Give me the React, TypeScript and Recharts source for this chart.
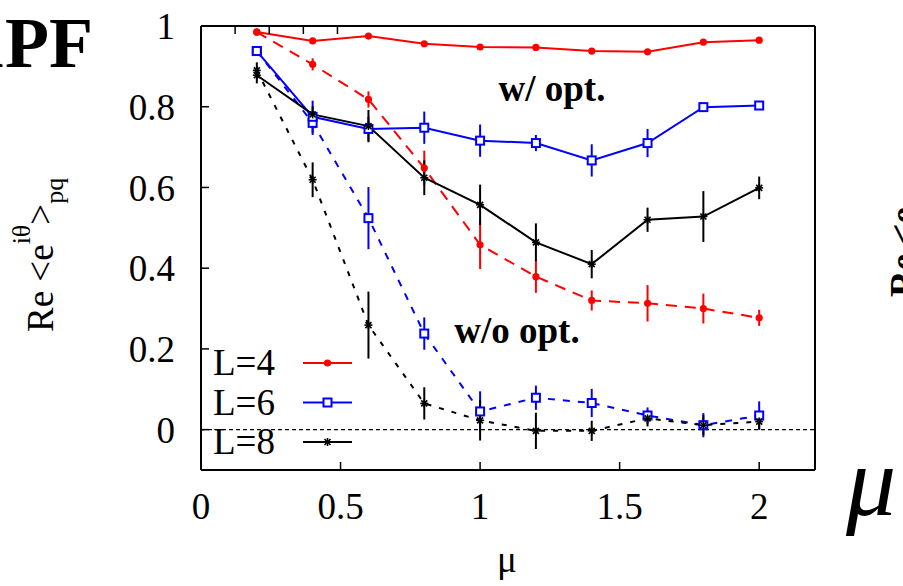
import {
  ComposedChart,
  Line,
  XAxis,
  YAxis,
  ErrorBar,
  ReferenceLine,
  Legend,
} from 'recharts';

const mu = [0.2, 0.4, 0.6, 0.8, 1.0, 1.2, 1.4, 1.6, 1.8, 2.0];

// w/ opt.
const l4Opt = [0.985, 0.963, 0.975, 0.956, 0.948, 0.947, 0.938, 0.936, 0.96, 0.965];
const l4OptErr = [0.008, 0.006, 0.006, 0.006, 0.006, 0.005, 0.005, 0.006, 0.006, 0.006];
const l6Opt = [0.938, 0.775, 0.745, 0.748, 0.716, 0.71, 0.667, 0.71, 0.799, 0.803];
const l6OptErr = [0.01, 0.04, 0.03, 0.04, 0.04, 0.02, 0.04, 0.035, 0.008, 0.008];
const l8Opt = [0.878, 0.781, 0.752, 0.624, 0.557, 0.464, 0.41, 0.52, 0.528, 0.599];
const l8OptErr = [0.02, 0.02, 0.04, 0.043, 0.05, 0.047, 0.035, 0.03, 0.063, 0.028];

// w/o opt.
const l4NoOpt = [0.985, 0.905, 0.818, 0.648, 0.458, 0.379, 0.32, 0.313, 0.3, 0.277];
const l4NoOptErr = [0.008, 0.015, 0.02, 0.043, 0.06, 0.04, 0.025, 0.045, 0.037, 0.02];
const l6NoOpt = [0.938, 0.76, 0.524, 0.238, 0.045, 0.079, 0.066, 0.035, 0.011, 0.035];
const l6NoOptErr = [0.01, 0.03, 0.077, 0.04, 0.05, 0.03, 0.035, 0.02, 0.03, 0.035];
const l8NoOpt = [0.89, 0.619, 0.259, 0.065, 0.023, -0.003, -0.003, 0.028, 0.011, 0.02];
const l8NoOptErr = [0.02, 0.043, 0.083, 0.04, 0.05, 0.045, 0.025, 0.02, 0.025, 0.02];

const xTicks = [0, 0.5, 1, 1.5, 2];
const yTicks = [0, 0.2, 0.4, 0.6, 0.8, 1];

const data = mu.map((m, i) => ({
  mu: m,
  l4Opt: l4Opt[i],
  l4OptErr: l4OptErr[i],
  l6Opt: l6Opt[i],
  l6OptErr: l6OptErr[i],
  l8Opt: l8Opt[i],
  l8OptErr: l8OptErr[i],
  l4NoOpt: l4NoOpt[i],
  l4NoOptErr: l4NoOptErr[i],
  l6NoOpt: l6NoOpt[i],
  l6NoOptErr: l6NoOptErr[i],
  l8NoOpt: l8NoOpt[i],
  l8NoOptErr: l8NoOptErr[i],
}));

const FONT = '"Liberation Serif", "Times New Roman", serif';

type Shape = 'circle' | 'square' | 'star';

function Marker({ cx, cy, color, shape }: { cx: number; cy: number; color: string; shape: Shape }) {
  if (cx == null || cy == null) return null;
  if (shape === 'circle') {
    return <circle cx={cx} cy={cy} r={3.6} fill={color} stroke="none" />;
  }
  if (shape === 'square') {
    return <rect x={cx - 4} y={cy - 4} width={8} height={8} fill="#fff" stroke={color} strokeWidth={2} />;
  }
  const s = 4;
  return (
    <g stroke={color} strokeWidth={1.6}>
      <line x1={cx - s} y1={cy} x2={cx + s} y2={cy} />
      <line x1={cx} y1={cy - s} x2={cx} y2={cy + s} />
      <line x1={cx - s * 0.75} y1={cy - s * 0.75} x2={cx + s * 0.75} y2={cy + s * 0.75} />
      <line x1={cx - s * 0.75} y1={cy + s * 0.75} x2={cx + s * 0.75} y2={cy - s * 0.75} />
    </g>
  );
}

const series = [
  { key: 'l4', name: 'L=4', color: '#ff0000', shape: 'circle' as Shape, dash: '11 8' },
  { key: 'l6', name: 'L=6', color: '#0000ff', shape: 'square' as Shape, dash: '7 8' },
  { key: 'l8', name: 'L=8', color: '#000000', shape: 'star' as Shape, dash: '5 8' },
];

function LegendBox() {
  return (
    <svg width={160} height={130} style={{ display: 'block' }}>
      {series.map((s, i) => {
        const cy = 28 + i * 39.5;
        return (
          <g key={s.key}>
            <text x={8} y={cy + 12} fontFamily={FONT} fontSize={37} fill="#000">
              {s.name}
            </text>
            <line x1={98} y1={cy} x2={147} y2={cy} stroke={s.color} strokeWidth={2} />
            <Marker cx={122.5} cy={cy} color={s.color} shape={s.shape} />
          </g>
        );
      })}
    </svg>
  );
}

const tickStyle = { fontSize: 37, fontFamily: FONT, fill: '#000' };
const frame = { stroke: '#000', strokeWidth: 2 };
const tickLine = { stroke: '#000', strokeWidth: 1.5 };

export default function App() {
  return (
    <div style={{ position: 'absolute', left: 0, top: 0, width: 903, height: 586, background: '#fff' }}>
      <ComposedChart
        width={903}
        height={586}
        data={data}
        margin={{ top: 25, right: 87, bottom: 115, left: 200 }}
      >
        <XAxis
          dataKey="mu"
          type="number"
          domain={[0, 2.2]}
          ticks={xTicks}
          height={1}
          tickSize={-8}
          tickMargin={31}
          tick={tickStyle}
          axisLine={frame}
          tickLine={tickLine}
          allowDataOverflow
        />
        <XAxis
          xAxisId="top"
          orientation="top"
          type="number"
          domain={[0, 2.2]}
          ticks={[0.5, 1, 1.5, 2]}
          height={1}
          tickSize={-8}
          tick={() => <g />}
          axisLine={frame}
          tickLine={tickLine}
        />
        <YAxis
          type="number"
          domain={[-0.1, 1]}
          ticks={yTicks}
          width={1}
          tickSize={-8}
          tickMargin={34}
          tick={tickStyle}
          axisLine={frame}
          tickLine={tickLine}
          allowDataOverflow
        />
        <YAxis
          yAxisId="right"
          orientation="right"
          type="number"
          domain={[-0.1, 1]}
          ticks={yTicks}
          width={1}
          tickSize={-8}
          tick={() => <g />}
          axisLine={frame}
          tickLine={tickLine}
        />
        <ReferenceLine y={0} stroke="#000" strokeWidth={1.4} strokeDasharray="4 3" />
        <Legend
          layout="vertical"
          align="center"
          verticalAlign="middle"
          content={() => <LegendBox />}
          wrapperStyle={{ left: 205, top: 335, width: 160, height: 130 }}
        />
        {series.map((s) => (
          <Line
            key={s.key + 'NoOpt'}
            dataKey={s.key + 'NoOpt'}
            stroke={s.color}
            strokeWidth={2}
            strokeDasharray={s.dash}
            legendType="none"
            isAnimationActive={false}
            dot={(p: any) => <Marker key={'n' + s.key + p.index} cx={p.cx} cy={p.cy} color={s.color} shape={s.shape} />}
          >
            <ErrorBar dataKey={s.key + 'NoOptErr'} width={0} stroke={s.color} strokeWidth={2} direction="y" />
          </Line>
        ))}
        {series.map((s) => (
          <Line
            key={s.key + 'Opt'}
            dataKey={s.key + 'Opt'}
            name={s.name}
            stroke={s.color}
            strokeWidth={2}
            isAnimationActive={false}
            dot={(p: any) => <Marker key={'o' + s.key + p.index} cx={p.cx} cy={p.cy} color={s.color} shape={s.shape} />}
          >
            <ErrorBar dataKey={s.key + 'OptErr'} width={0} stroke={s.color} strokeWidth={2} direction="y" />
          </Line>
        ))}
      </ComposedChart>
      <svg
        width={903}
        height={586}
        style={{ position: 'absolute', left: 0, top: 0, pointerEvents: 'none' }}
      >
        <text x={3} y={67} textAnchor="end" fontFamily={FONT} fontWeight="bold" fontSize={71} fill="#000">
          A
        </text>
        <text
          x={5}
          y={67}
          textLength={88}
          lengthAdjust="spacingAndGlyphs"
          fontFamily={FONT}
          fontWeight="bold"
          fontSize={71}
          fill="#000"
        >
          PF
        </text>
        <text x={552} y={101} textAnchor="middle" fontFamily={FONT} fontWeight="bold" fontSize={37} fill="#000">
          w/ opt.
        </text>
        <text x={517} y={343} textAnchor="middle" fontFamily={FONT} fontWeight="bold" fontSize={37} fill="#000">
          w/o opt.
        </text>
        <text x={507} y={572} textAnchor="middle" fontFamily={FONT} fontSize={37} fill="#000">
          μ
        </text>
        <text transform="rotate(-90, 53, 332)" x={53} y={332} fontFamily={FONT} fontSize={37} fill="#000">
          <tspan>Re &lt;e</tspan>
          <tspan dy={-23} fontSize={26}>iθ</tspan>
          <tspan dy={23}>&gt;</tspan>
          <tspan dy={10} fontSize={26}>pq</tspan>
        </text>
        <text transform="rotate(-90, 916, 297)" x={916} y={297} fontFamily={FONT} fontWeight="bold" fontSize={37} fill="#000">
          Re &lt;e
        </text>
        <text x={846} y={515} fontFamily={FONT} fontStyle="italic" fontSize={100} fill="#000">
          μ
        </text>
      </svg>
    </div>
  );
}
